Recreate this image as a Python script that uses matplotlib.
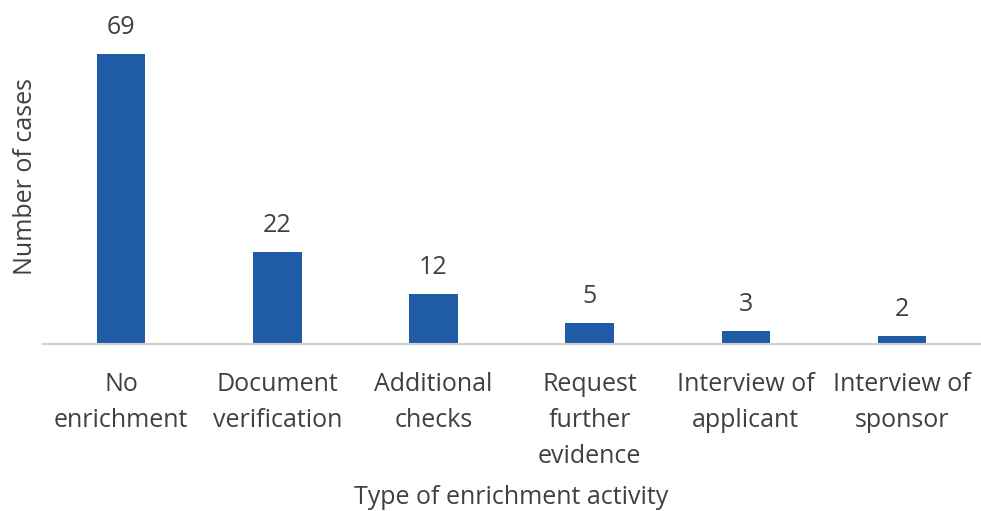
import matplotlib
matplotlib.use("Agg")
import matplotlib.pyplot as plt

# Enrichment activities and the number of cases for each
categories = ["No\nenrichment", "Document\nverification", "Additional\nchecks",
              "Request\nfurther\nevidence", "Interview of\napplicant", "Interview of\nsponsor"]
cases = [69, 22, 12, 5, 3, 2]

plt.rcParams["font.family"] = ["Open Sans", "DejaVu Sans"]
text_color = "#404040"
bar_color = "#1F5BA6"
fs = 18

fig = plt.figure(figsize=(9.81, 5.11), dpi=100)
ax = fig.add_axes([0.044, 0.327, 0.955, 0.657])

x = range(len(categories))
bars = ax.bar(x, cases, width=0.31, color=bar_color)

for rect, v in zip(bars, cases):
    ax.annotate(str(v), (rect.get_x() + rect.get_width() / 2, v),
                xytext=(0, 10), textcoords="offset points",
                ha="center", va="bottom", fontsize=fs, color=text_color)

ax.set_xlim(-0.5, len(categories) - 0.5)
ax.set_ylim(0, 80)
ax.set_xticks(list(x))
ax.set_xticklabels(categories, fontsize=fs, color=text_color, linespacing=1.6)
ax.tick_params(axis="x", length=0, pad=20)
ax.set_yticks([])

for side in ("top", "right", "left"):
    ax.spines[side].set_visible(False)
ax.spines["bottom"].set_color("#D0D0D0")
ax.spines["bottom"].set_linewidth(1.5)

ax.set_ylabel("Number of cases", fontsize=fs, color=text_color, labelpad=4)
ax.set_xlabel("Type of enrichment activity", fontsize=fs, color=text_color, labelpad=11)

fig.savefig("out.png", dpi=100)
